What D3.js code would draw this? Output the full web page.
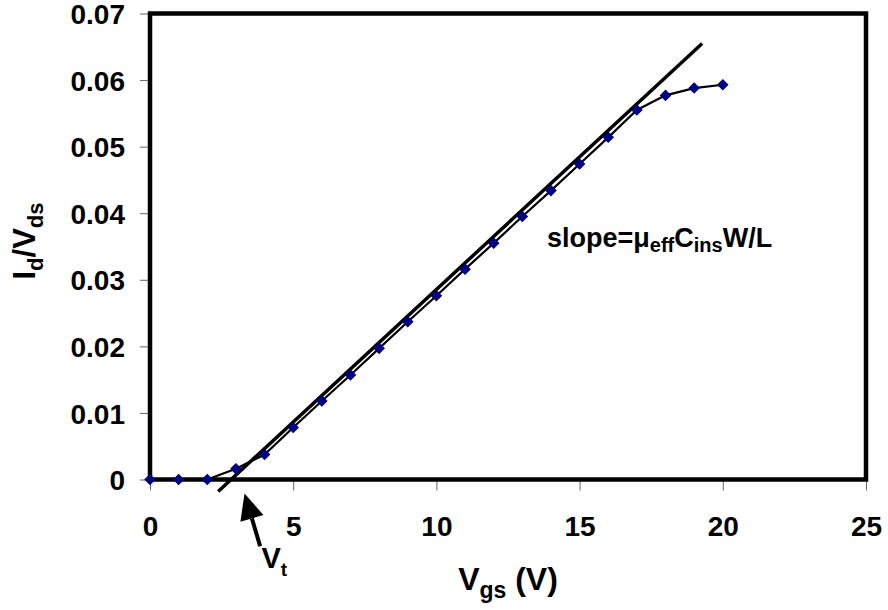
<!DOCTYPE html>
<html>
<head>
<meta charset="utf-8">
<script src="https://cdn.jsdelivr.net/npm/d3@7"></script>
<style>
  body { margin: 0; background: #fff; }
  text { font-family: "Liberation Sans", Arial, sans-serif; font-weight: bold; fill: #000; }
</style>
</head>
<body>
<div id="graph"></div>
<script>

// measured points: gate voltage and Id/Vds
var vgs = [0, 1, 2, 3, 4, 5, 6, 7, 8, 9, 10, 11, 12, 13, 14, 15, 16, 17, 18, 19, 20];
var idvds = [0, 0, 0, 0.0016, 0.00375, 0.0078, 0.0118, 0.0157, 0.0197, 0.0237, 0.0276,
             0.0316, 0.0355, 0.0395, 0.0434, 0.0474, 0.0514, 0.0555, 0.0577, 0.0588, 0.0593];

// straight line fitted through the linear part (end points)
var fitX = [2.38, 19.28];
var fitY = [-0.0018, 0.0655];

var xTicks = [0, 5, 10, 15, 20, 25];
var yTicks = [0, 0.01, 0.02, 0.03, 0.04, 0.05, 0.06, 0.07];

var vtValue = 3.3; // where the Vt arrow points

// set the dimensions and margins of the graph
var margin = {top: 13.5, right: 22, bottom: 130.5, left: 150},
    width = 888 - margin.left - margin.right,
    height = 610 - margin.top - margin.bottom;

var svg = d3.select("#graph")
  .append("svg")
    .attr("width", 888)
    .attr("height", 610)
  .append("g")
    .attr("transform", "translate(" + margin.left + "," + margin.top + ")");

var x = d3.scaleLinear().domain([0, 25]).range([0, width]);
var y = d3.scaleLinear().domain([0, 0.07]).range([height, 0]);

// X axis
var xAxis = svg.append("g")
  .attr("transform", "translate(0," + height + ")")
  .call(d3.axisBottom(x).tickValues(xTicks).tickSize(11).tickFormat(d3.format("d")));
xAxis.select(".domain").remove();
xAxis.selectAll("line").attr("stroke", "#666").attr("stroke-width", 1);
xAxis.selectAll("text")
  .attr("y", 0).attr("dy", "56px")
  .style("font-size", "28px");

// Y axis
var yAxis = svg.append("g")
  .call(d3.axisLeft(y).tickValues(yTicks).tickSize(10).tickFormat(function(d) { return d === 0 ? "0" : d3.format(".2f")(d); }));
yAxis.select(".domain").remove();
yAxis.selectAll("line").attr("stroke", "#666").attr("stroke-width", 1);
yAxis.selectAll("text")
  .attr("x", -25).attr("dy", "0.36em")
  .style("font-size", "28px");

// plot frame
svg.append("rect")
  .attr("x", 0).attr("y", 0)
  .attr("width", width).attr("height", height)
  .attr("fill", "none")
  .attr("stroke", "#000")
  .attr("stroke-width", 4.5);

var data = vgs.map(function(v, i) { return {x: v, y: idvds[i]}; });

// fitted line
svg.append("path")
  .datum(fitX.map(function(v, i) { return {x: v, y: fitY[i]}; }))
  .attr("fill", "none")
  .attr("stroke", "#000")
  .attr("stroke-width", 3.5)
  .attr("d", d3.line().x(function(d) { return x(d.x); }).y(function(d) { return y(d.y); }));

// data line
svg.append("path")
  .datum(data)
  .attr("fill", "none")
  .attr("stroke", "#000")
  .attr("stroke-width", 2.2)
  .attr("d", d3.line().x(function(d) { return x(d.x); }).y(function(d) { return y(d.y); }));

// diamond markers
svg.selectAll(".pt")
  .data(data)
  .enter()
  .append("path")
    .attr("class", "pt")
    .attr("transform", function(d) { return "translate(" + x(d.x) + "," + y(d.y) + ")"; })
    .attr("d", "M0,-5.8L5.8,0L0,5.8L-5.8,0Z")
    .attr("fill", "#000080");

// Vt arrow
var tipX = x(vtValue), tipY = height + 14;
var ang = Math.atan2(53, 15.7);
var ux = -Math.cos(ang), uy = -Math.sin(ang); // unit vector from tail to tip
var headLen = 26, headW = 12;
var baseX = tipX - ux * headLen, baseY = tipY - uy * headLen;
var px = -uy, py = ux;
svg.append("path")
  .attr("d", "M" + tipX + "," + tipY +
             "L" + (baseX + px * headW) + "," + (baseY + py * headW) +
             "L" + (baseX - px * headW) + "," + (baseY - py * headW) + "Z")
  .attr("fill", "#000");
svg.append("line")
  .attr("x1", baseX).attr("y1", baseY)
  .attr("x2", tipX - ux * 55).attr("y2", tipY - uy * 55)
  .attr("stroke", "#000")
  .attr("stroke-width", 4);

var vt = svg.append("text")
  .attr("x", tipX + 17).attr("y", height + 88)
  .style("font-size", "29px");
vt.append("tspan").text("V");
vt.append("tspan").attr("dy", 8).style("font-size", "19px").text("t");

// slope annotation
var sl = svg.append("text")
  .attr("x", 547 - margin.left).attr("y", 247 - margin.top)
  .style("font-size", "27px");
sl.append("tspan").text("slope=\u03bc");
sl.append("tspan").attr("dy", 5).style("font-size", "20px").text("eff");
sl.append("tspan").attr("dy", -5).text("C");
sl.append("tspan").attr("dy", 5).style("font-size", "20px").text("ins");
sl.append("tspan").attr("dy", -5).text("W/L");

// X axis label
var xl = svg.append("text")
  .attr("text-anchor", "middle")
  .attr("x", 508 - margin.left).attr("y", 590 - margin.top)
  .style("font-size", "32px");
xl.append("tspan").text("V");
xl.append("tspan").attr("dy", 8).style("font-size", "23px").text("gs");
xl.append("tspan").attr("dy", -8).text(" (V)");

// Y axis label
var yl = svg.append("text")
  .attr("text-anchor", "middle")
  .attr("transform", "translate(" + (35 - margin.left) + "," + (241 - margin.top) + ") rotate(-90)")
  .style("font-size", "31px");
yl.append("tspan").text("I");
yl.append("tspan").attr("dy", 8).style("font-size", "22px").text("d");
yl.append("tspan").attr("dy", -8).text("/V");
yl.append("tspan").attr("dy", 8).style("font-size", "22px").text("ds");

</script>
</body>
</html>
